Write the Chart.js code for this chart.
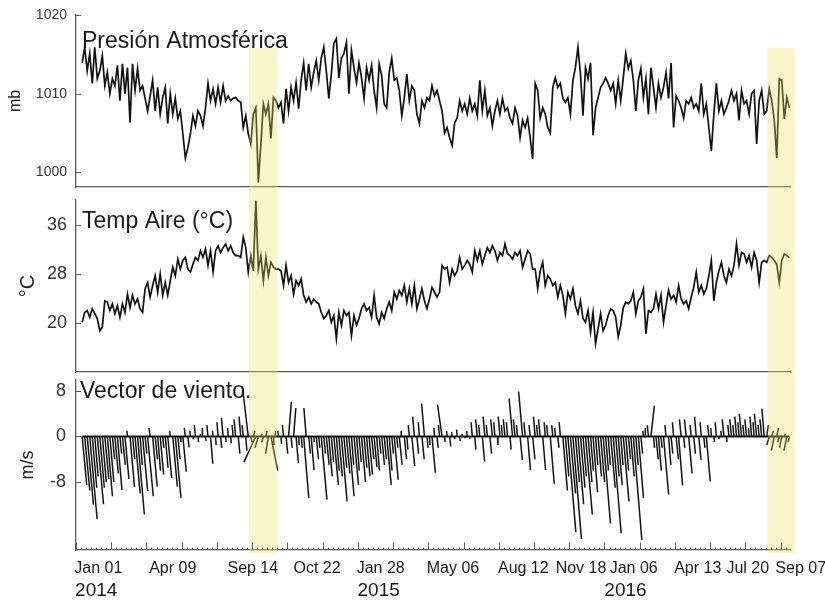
<!DOCTYPE html>
<html>
<head>
<meta charset="utf-8">
<script src="https://cdn.jsdelivr.net/npm/chart.js@4.4.1/dist/chart.umd.min.js"></script>
<style>
html, body { margin: 0; padding: 0; background: #fff; }
#wrap { position: relative; width: 825px; height: 603px; overflow: hidden; }
canvas { position: absolute; left: 0; }
</style>
</head>
<body>
<div id="wrap">
  <canvas id="c_pres" width="825" height="190" style="top:0px"></canvas>
  <canvas id="c_temp" width="825" height="185" style="top:190px"></canvas>
  <canvas id="c_wind" width="825" height="228" style="top:375px"></canvas>
</div>
<script>
//------------------------------------------- DATA -------------------------------------------//
// samples every 3.5 days, first sample 8.6 days after the start of the axis
var FIRST_DAY = 8.6;
var STEP_DAYS = 3.5;
var X_MIN = 0, X_MAX = 993;

var presVals = [
  1013.9,1015.9,1012.9,1015.1,1011.3,1015.9,1011.9,1012.9,1014.8,1011.0,
  1012.7,1010.0,1011.9,1011.0,1013.6,1009.1,1013.8,1010.0,1013.3,1006.3,
  1013.8,1010.4,1013.2,1010.4,1011.0,1009.4,1007.8,1009.7,1011.7,1007.8,
  1010.8,1007.4,1009.5,1010.8,1006.2,1010.0,1007.4,1009.4,1006.8,1007.8,
  1004.9,1001.8,1003.1,1004.9,1007.2,1005.9,1007.8,1007.2,1005.9,1008.2,
  1011.3,1009.1,1010.6,1008.7,1010.8,1008.9,1011.0,1009.1,1009.7,1009.1,
  1009.4,1009.5,1009.1,1008.9,1005.7,1007.2,1004.9,1003.6,1007.4,1008.2,
  998.7,1003.6,1008.7,1007.4,1008.7,1004.3,1009.5,1009.1,
  1008.2,1008.9,1006.2,1010.6,1007.8,1010.8,1009.1,1011.4,1008.1,1011.7,
  1013.9,1010.4,1013.8,1010.8,1012.7,1014.2,1011.7,1014.5,1015.9,1012.9,
  1009.4,1012.5,1016.4,1017.0,1012.0,1014.5,1015.1,1016.5,1010.0,1015.5,
  1013.3,1011.4,1013.9,1012.0,1009.4,1013.3,1011.7,1013.6,1010.4,1008.2,
  1013.8,1012.3,1008.7,1008.2,1012.7,1014.5,1011.7,1012.0,1010.4,1007.2,
  1009.5,1012.5,1009.1,1011.0,1010.4,1007.4,1006.2,1009.1,1008.2,1009.5,
  1009.1,1011.0,1009.7,1010.4,1009.1,1007.8,1005.0,1005.7,1004.4,1003.4,
  1006.3,1006.9,1009.1,1007.8,1008.7,1007.4,1009.4,1007.8,1008.7,1007.2,
  1011.7,1007.8,1010.4,1007.2,1008.2,1005.9,1007.8,1009.1,1007.4,1009.4,
  1007.8,1008.2,1006.9,1006.2,1008.2,1007.2,1004.4,1006.6,1005.7,1006.9,
  1004.4,1001.7,1011.3,1010.4,
  1006.9,1008.2,1007.4,1005.7,1005.0,1010.8,1012.0,1010.8,1011.3,1009.4,
  1008.9,1009.5,1007.4,1011.7,1013.3,1015.9,1012.5,1007.2,1013.3,1011.9,1013.9,1004.7,
  1008.2,1009.5,1010.8,1011.3,1012.0,1011.3,1010.4,1011.3,1008.7,1011.7,
  1009.1,1012.0,1015.1,1013.2,1014.2,1011.7,1007.8,1011.7,1013.2,1009.5,
  1011.9,1007.4,1013.3,1010.8,1008.2,1011.3,1009.5,1010.8,1012.7,1009.4,1013.9,1005.7,
  1009.7,1009.1,1008.2,1006.9,1009.1,1008.7,1009.5,1008.2,1008.7,1007.8,
  1011.3,1007.4,1008.7,1005.7,1002.7,1007.4,1011.3,1007.8,1009.1,1007.4,
  1008.2,1009.1,1010.4,1009.1,1010.0,1006.6,1010.4,1008.7,1009.1,1007.4,
  1010.0,1010.4,1003.6,1009.1,1010.4,1007.4,1007.8,1010.6,1009.1,1006.6,1001.8,
  1011.9,1011.7,1006.8,1009.5,1008.2
];

var tempVals = [
  20.1,21.7,22.0,20.9,22.3,21.5,20.7,18.7,19.3,23.6,
  23.4,22.0,23.1,21.5,22.8,20.9,23.1,21.7,24.7,22.5,
  24.5,23.1,23.9,22.3,21.7,25.6,26.6,24.2,26.1,27.7,
  25.0,28.0,24.5,26.6,24.5,26.9,29.1,27.7,30.4,28.8,
  30.2,30.7,28.8,28.3,29.6,30.7,30.2,31.8,30.7,32.1,
  29.4,31.8,28.3,31.8,32.6,31.5,32.3,32.9,31.8,32.6,
  31.5,31.0,31.0,30.7,34.0,32.3,28.3,31.0,28.5,40.0,
  28.8,31.0,26.9,30.7,27.7,29.9,29.1,28.8,
  28.8,28.5,26.1,29.4,26.6,27.7,24.7,26.9,26.1,27.2,
  24.5,23.4,24.2,23.1,23.9,23.4,23.1,21.7,20.7,21.2,
  22.0,20.1,21.2,17.4,21.7,19.6,22.0,21.2,21.7,17.9,
  21.2,19.6,20.7,22.3,23.1,22.0,22.5,20.9,24.5,20.9,
  19.8,21.7,20.7,22.3,23.4,22.0,25.0,23.9,25.3,24.5,
  26.1,23.4,25.6,23.1,26.1,22.3,23.9,25.6,23.6,22.3,
  23.9,25.8,25.0,24.2,25.0,29.4,28.8,29.1,26.6,28.8,
  27.7,28.5,30.7,28.8,29.4,30.2,29.6,28.3,31.8,30.2,
  31.8,29.6,31.0,32.3,31.5,32.6,31.8,30.2,31.5,31.0,
  32.9,31.3,31.0,30.4,31.5,31.0,31.8,29.1,30.4,31.8,
  31.3,28.8,28.8,25.6,28.5,29.9,26.1,
  27.7,27.2,26.1,26.6,24.2,26.1,24.5,21.5,25.0,23.9,
  25.6,22.8,21.5,23.6,20.7,20.1,22.0,18.5,21.7,16.6,
  19.0,21.5,18.7,19.6,21.2,22.3,22.0,20.9,17.7,19.6,
  22.5,23.4,23.1,23.6,25.0,21.5,23.6,24.2,25.6,18.2,
  22.0,21.7,22.3,24.7,22.3,24.5,20.1,22.8,25.3,23.9,
  24.5,23.4,26.1,23.9,23.1,23.6,22.3,24.2,25.8,28.3,
  25.0,26.1,24.7,25.6,27.7,30.2,23.6,26.6,28.5,29.9,
  27.7,26.6,28.8,27.7,29.4,32.9,29.4,31.5,31.3,29.9,
  31.0,29.1,31.5,30.2,26.6,29.9,30.2,29.9,31.0,30.7,
  30.2,29.6,26.6,30.2,31.3,31.0,30.7
];

// wind vector components (m/s): v north-south, u east-west
var windV = [
  -8.5,-9.5,-12,-14.5,-9,-7,-11.9,-9,-8,-7.5,-10.5,-8,
  -4,-6.5,-9.4,-3,-5,
  -7.5,1,-8.9,-4,-10,-13.7,-5,
  -9.6,-3,-10.5,1.5,-8.8,-4,-6,
  -6.7,-2,-5.5,-7.3,1,-8.8,-10.8,-4,
  -1,-6.2,1.5,-1.9,
  1,-0.5,2,-1,0.5,1.5,-0.8,2,-4.8,1,
  -1.5,2.5,-2,3.3,-1,1.5,-1.2,2,
  3,-3,3.5,2,-2.5,
  7.6,-1,1,-4.5,-2,0.5,-1,1,-3,-6,-1.5,1,
  1,-1.3,2,-3,6.1,
  -2,5,-4.7,-1.5,
  -2,-10.8,5,-3,-5.9,-1,-4,-2,-11.1,-3,
  -5,-7,-4.5,-8.5,-6,-7,-11.4,-5.5,-6.5,-10.5,-5,-8.5,-6,-4.5,-8,-5.5,-7,-6.7,-4,-5.4,-6,-3,
  -5,-4,-8.5,-6,-3,-7.6,-2,-5,1,-4,
  -2.3,2,-5.2,3.5,-3,2.5,-4,5.8,-2,
  -1.5,-6.4,1.5,-2,2,5.6,
  -1,1,-1.75,0.8,-0.5,1.2,-0.8,0.5,-0.3,1,-0.5,
  2.5,-2.3,3,2,-4.4,3.5,2,-3,3,2.5,-1.5,3.5,2,3,
  2.5,-2.3,6.7,3,2,-4.1,7.9,2.5,-5.9,2,
  -4,3.5,2,3,-5.9,2.5,2,-8.3,2,1.5,-2,2.5,
  -9.5,-7,-16.8,-10,-18,-8,-11.9,-9,-7,-13.7,-8,-6,-9.8,
  -5,-7,-8,-15.3,-6,-5,-9,-17,-7,-8.5,
  -5,-11.4,-6,-4,-7,-18.2,-5,-10.8,-3,1,
  1.5,2,5.4,-2,-4,
  -6,-2,-10.2,2,-5,-3,2.5,-4,-8.6,3,-2,
  3,-6.5,2,-3,3.5,-4.1,2.5,-2,-7.9,2,
  1.5,-1,2.5,-0.5,1,3,-1,2,
  3,2,3.5,2.5,4,2,3,1.5,3.5,2.5,4,2,3,4.9,
  2,-1.5,1,-2.5,1.5,-1,-2,0.5,-2.5,-1
];
var windU = [
  0.8,0.9,1.1,1.3,0.8,0.6,1.1,0.8,0.7,0.7,0.9,0.7,
  0.4,0.6,0.8,0.3,0.5,
  0.7,-0.1,0.8,0.4,0.9,1.2,0.4,
  0.9,0.3,1.0,-0.2,0.8,0.4,0.5,
  0.6,0.2,0.5,0.7,-0.1,0.8,1.0,0.4,
  0.1,0.6,-0.2,0.2,
  -0.1,0.1,-0.2,0.1,0,-0.1,0.1,-0.2,0.4,-0.1,
  0.1,-0.2,0.2,-0.3,0.1,-0.1,0.1,-0.2,
  -0.3,0.3,-0.3,-0.2,0.2,
  -0.9,0.2,0.3,-2.1,-0.6,0.2,-0.3,0.2,-0.5,1.2,0.1,-0.1,
  -0.1,0.1,-0.2,0.3,0.5,
  0.2,0.4,0.4,0.1,
  0.2,0.9,-0.4,0.3,0.5,0.1,0.4,0.2,1.0,0.3,
  0.5,0.6,0.4,0.8,0.5,0.6,1.0,0.5,0.6,0.9,0.4,0.8,0.5,0.4,0.7,0.5,0.6,0.6,0.4,0.5,0.5,0.3,
  0.5,0.4,0.8,0.5,0.3,0.7,0.2,0.5,-0.1,0.4,
  0.2,-0.2,0.5,-0.3,0.3,-0.2,0.4,-0.5,0.2,
  0.1,0.6,-0.1,0.2,-0.2,-0.8,
  0.1,-0.1,0.2,-0.1,0,-0.1,0.1,0,0,-0.1,0,
  -0.2,0.2,-0.3,-0.2,0.4,-0.3,-0.2,0.3,-0.3,-0.2,0.1,-0.3,-0.2,-0.3,
  -0.2,0.2,-0.6,-0.3,-0.2,0.4,-0.7,-0.2,0.5,-0.2,
  0.4,-0.3,-0.2,-0.3,0.5,-0.2,-0.2,0.7,-0.2,-0.1,0.2,-0.2,
  0.8,0.6,1.4,0.9,1.5,0.7,1.0,0.8,0.6,1.2,0.7,0.5,0.8,
  0.4,0.6,0.7,1.3,0.5,0.4,0.8,1.4,0.6,0.7,
  0.4,1.0,0.5,0.4,0.6,1.5,0.4,0.9,0.3,-0.1,
  -0.1,-0.2,0.6,0.2,0.4,
  0.5,0.2,0.9,-0.2,0.4,0.3,-0.2,0.4,0.7,-0.3,0.2,
  -0.3,0.6,-0.2,0.3,-0.3,0.4,-0.2,0.2,0.7,-0.2,
  -0.1,0.1,-0.2,0,-0.1,-0.3,0.1,-0.2,
  -0.3,-0.2,-0.3,-0.2,-0.4,-0.2,-0.3,-0.1,-0.3,-0.2,-0.4,-0.2,-0.3,-0.4,
  0.3,-0.4,0.3,-0.5,0.3,-0.3,-0.4,0.2,-0.5,-0.2
];

var presTicks = [1000, 1010, 1020];
var tempTicks = [20, 28, 36];
var windTicks = [-8, 0, 8];

var monthLabels = ['Jan 01','Apr 09','Sep 14','Oct 22','Jan 28','May 06','Aug 12','Nov 18','Jan 06','Apr 13','Jul 20','Sep 07'];
var monthDays   = [31, 134.5, 245.9, 335.2, 423.8, 524.3, 622.1, 702.3, 775.6, 864.7, 934.3, 1007.9];
var yearLabels  = ['2014', '2015', '2016'];
var yearDays    = [28.1, 420.9, 764.2];

// highlighted events (start day, end day)
var bandDays = [[240.6, 279.5], [962, 1000]];

//------------------------------------------- STYLE -------------------------------------------//
var FONT = "'Liberation Sans', Arial, sans-serif";
var AXIS_COLOR = '#5a5a5a';
var LINE_COLOR = '#111';
var BAND_COLOR = 'rgba(235,226,98,0.33)';
var STICK_DAYS = 7.9;   // x extent (days) of 1 m/s so that sticks keep the panel aspect

var days = presVals.map(function (v, i) { return FIRST_DAY + STEP_DAYS * i; });

function series(vals) {
    return vals.map(function (v, i) { return { x: days[i], y: v }; });
}

//------------------------------------------- DECORATION PLUGIN -------------------------------------------//
var panelDeco = {
    id: 'panelDeco',
    afterDatasetsDraw: function (chart, args, o) {
        var ctx = chart.ctx, a = chart.chartArea, x = chart.scales.x, y = chart.scales.y;
        ctx.save();
        ctx.fillStyle = BAND_COLOR;
        bandDays.forEach(function (b) {
            var x0 = x.getPixelForValue(b[0]), x1 = x.getPixelForValue(b[1]);
            var top = o.bandTop != null ? y.getPixelForValue(o.bandTop) : 0;
            var bottom = o.bandBelow != null ? a.bottom + o.bandBelow : chart.height;
            ctx.fillRect(x0, top, x1 - x0, bottom - top);
        });
        ctx.restore();
    },
    afterDraw: function (chart, args, o) {
        var ctx = chart.ctx, a = chart.chartArea, x = chart.scales.x, y = chart.scales.y;
        ctx.save();
        ctx.strokeStyle = AXIS_COLOR;
        ctx.lineWidth = 1;
        // inward y ticks
        y.ticks.forEach(function (t) {
            var py = Math.round(y.getPixelForValue(t.value)) + 0.5;
            ctx.beginPath();
            ctx.moveTo(a.left, py);
            ctx.lineTo(a.left + 5, py);
            ctx.stroke();
        });
        // inward x ticks, weekly minor and 7-week major
        if (o.xTicks) {
            for (var d = X_MIN; d <= X_MAX; d += 7) {
                var px = Math.round(x.getPixelForValue(d)) + 0.5;
                var len = (d % 49 === 0) ? 7.5 : 2.5;
                ctx.beginPath();
                ctx.moveTo(px, a.bottom);
                ctx.lineTo(px, a.bottom - len);
                ctx.stroke();
            }
        }
        // panel title inside the plot
        ctx.fillStyle = '#1a1a1a';
        ctx.font = '23px ' + FONT;
        ctx.textBaseline = 'alphabetic';
        ctx.textAlign = 'left';
        ctx.fillText(o.title, a.left + o.titleDx, a.top + o.titleDy);
        ctx.restore();
    }
};

//------------------------------------------- PANEL BUILDER -------------------------------------------//
function makePanel(id, datasets, cfg) {
    var scales = {
        x: {
            type: 'linear', min: X_MIN, max: X_MAX,
            grid: { display: false, drawTicks: false },
            border: { display: true, color: AXIS_COLOR, width: 1.3 },
            ticks: { display: false },
            afterFit: function (s) { s.height = 0; s.paddingLeft = 0; s.paddingRight = 0; }
        },
        y: {
            type: 'linear', min: cfg.yMin, max: cfg.yMax,
            grid: { display: false, drawTicks: false },
            border: { display: true, color: AXIS_COLOR, width: 1.3 },
            ticks: { color: '#333', font: { family: FONT, size: cfg.tickSize }, padding: cfg.tickPad,
                     callback: function (v) { return String(v); } },
            afterBuildTicks: function (s) { s.ticks = cfg.ticks.map(function (v) { return { value: v }; }); },
            title: { display: true, text: cfg.unit, color: '#222',
                     font: { family: FONT, size: cfg.unitSize }, padding: { top: cfg.unitPad, bottom: 0 } },
            afterFit: function (s) { s.width = 76; s.paddingTop = 0; s.paddingBottom = 0; }
        }
    };
    if (cfg.labels) {
        scales.x.ticks = {
            display: true, autoSkip: false, maxRotation: 0, minRotation: 0,
            color: '#1a1a1a', font: { family: FONT, size: 16 }, padding: 9,
            callback: function (v, i) { return monthLabels[i]; }
        };
        scales.x.afterBuildTicks = function (s) { s.ticks = monthDays.map(function (v) { return { value: v }; }); };
        scales.x.afterFit = function (s) { s.height = 28; s.paddingLeft = 0; s.paddingRight = 0; };
        scales.xYear = {
            type: 'linear', position: 'bottom', min: X_MIN, max: X_MAX, weight: 1,
            grid: { display: false, drawTicks: false },
            border: { display: false },
            ticks: { autoSkip: false, maxRotation: 0, minRotation: 0, color: '#1a1a1a',
                     font: { family: FONT, size: 19 }, padding: 1,
                     callback: function (v, i) { return yearLabels[i]; } },
            afterBuildTicks: function (s) { s.ticks = yearDays.map(function (v) { return { value: v }; }); },
            afterFit: function (s) { s.height = 25; s.paddingLeft = 0; s.paddingRight = 0; }
        };
    }
    return new Chart(document.getElementById(id), {
        type: 'line',
        data: { datasets: datasets },
        options: {
            responsive: false, maintainAspectRatio: false, animation: false,
            devicePixelRatio: 1, events: [],
            layout: { padding: { top: cfg.padTop, bottom: cfg.padBottom, left: 0, right: 35 } },
            plugins: {
                legend: { display: false }, tooltip: { enabled: false },
                panelDeco: { title: cfg.title, titleDx: cfg.titleDx, titleDy: cfg.titleDy,
                             bandTop: cfg.bandTop, bandBelow: cfg.bandBelow, xTicks: !!cfg.labels }
            },
            scales: scales
        },
        plugins: [panelDeco]
    });
}

function lineSet(points, width) {
    return { data: points, borderColor: LINE_COLOR, borderWidth: width, pointRadius: 0, tension: 0, fill: false };
}

//------------------------------------------- PRESSURE -------------------------------------------//
makePanel('c_pres', [lineSet(series(presVals), 1.7)], {
    yMin: 998.13, yMax: 1020, ticks: presTicks, tickSize: 14, tickPad: 9,
    unit: 'mb', unitSize: 16, unitPad: 6,
    padTop: 15, padBottom: 3,
    title: 'Presión Atmosférica', titleDx: 6, titleDy: 33,
    bandTop: 1015.8, bandBelow: null
});

//------------------------------------------- AIR TEMPERATURE -------------------------------------------//
makePanel('c_temp', [lineSet(series(tempVals), 1.7)], {
    yMin: 11.95, yMax: 40.1, ticks: tempTicks, tickSize: 18, tickPad: 9,
    unit: '°C', unitSize: 20, unitPad: 16,
    padTop: 10, padBottom: 3,
    title: 'Temp Aire (°C)', titleDx: 6, titleDy: 28,
    bandTop: null, bandBelow: null
});

//------------------------------------------- WIND STICKS -------------------------------------------//
var stickPts = [];
windV.forEach(function (v, i) {
    stickPts.push({ x: days[i], y: 0 });
    stickPts.push({ x: days[i] + windU[i] * STICK_DAYS, y: v });
    stickPts.push({ x: days[i], y: null });
});
var zeroLine = [{ x: days[0], y: 0 }, { x: days[days.length - 1], y: 0 }];

makePanel('c_wind', [lineSet(stickPts, 1.5), lineSet(zeroLine, 1.8)], {
    yMin: -19.95, yMax: 9.93, ticks: windTicks, tickSize: 18, tickPad: 10,
    unit: 'm/s', unitSize: 18, unitPad: 17,
    padTop: 5, padBottom: 0,
    title: 'Vector de viento.', titleDx: 4, titleDy: 18,
    bandTop: null, bandBelow: 3,
    labels: true
});
</script>
</body>
</html>
